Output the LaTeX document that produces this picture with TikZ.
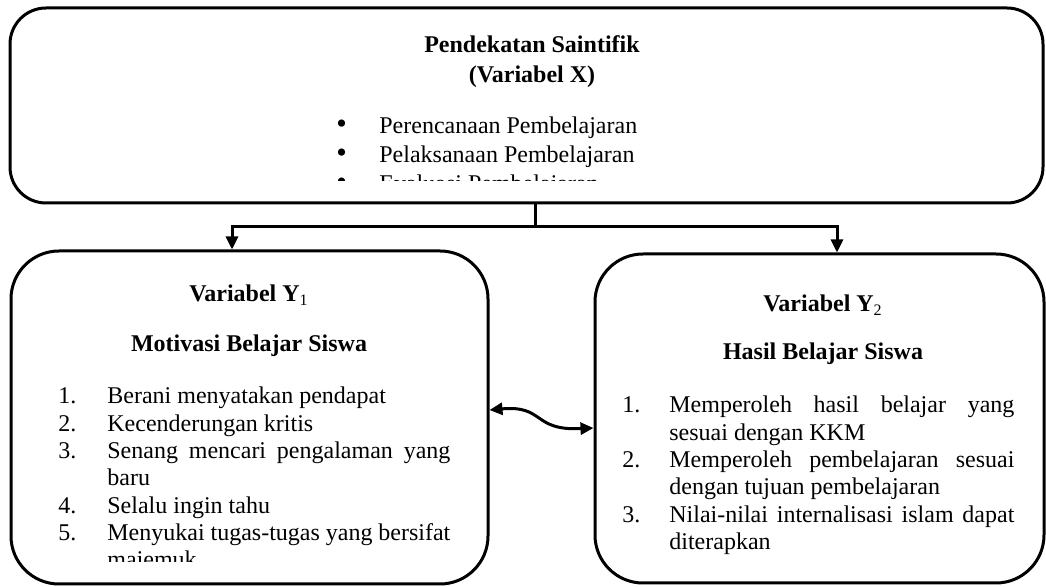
\documentclass[tikz,border=0pt]{standalone}
\usepackage{fontspec}
\setmainfont{Liberation Serif}
\usetikzlibrary{arrows.meta}

\newcommand{\listrow}[3]{\hangindent=#1\hangafter=1\makebox[#1][l]{#2}#3\par}
\hyphenpenalty=10000
\tolerance=10000
\hbadness=10000

\tikzset{
    >={Triangle[length=6.5pt,width=6pt]},
    varbox/.style={draw, line width=1.5pt, rounded corners=24pt},
    head/.style={font=\fontsize{12pt}{14pt}\selectfont\bfseries, anchor=base},
    itemlist/.style={anchor=base west, inner sep=0pt, align=justify, font=\fontsize{12pt}{13.65pt}\selectfont},
    link/.style={line width=1.5pt, ->}
}

\begin{document}
\begin{tikzpicture}[x=0.5pt, y=-0.5pt]
    \useasboundingbox (0,0) rectangle (1046,587);
    % boxes
    \node[varbox, rounded corners=18pt, minimum width=516.5pt, minimum height=97.5pt] (xbox) at (526.5,105.5) {};
    \node[varbox, minimum width=238.5pt, minimum height=166.5pt] (y1box) at (249.5,417.5) {};
    \node[varbox, minimum width=224.5pt, minimum height=164.5pt] (y2box) at (819.5,418.5) {};
    % headings
    \node[head] (xtitle) at (532,53) {Pendekatan Saintifik};
    \node[head] (xsub) at (532,83) {(Variabel X)};
    \node[head] (y1title) at (249,302) {Variabel Y\textsubscript{\normalfont 1}};
    \node[head] (y1sub) at (249,352) {Motivasi Belajar Siswa};
    \node[head] (y2title) at (823,312) {Variabel Y\textsubscript{\normalfont 2}};
    \node[head] (y2sub) at (823,360) {Hasil Belajar Siswa};
    % lists
    \begin{scope}
        \clip (20,20) rectangle (1030,181);
        \node[itemlist, text width=345pt, font=\fontsize{12pt}{14.5pt}\selectfont] (xlist) at (336,134) {%
            \listrow{21.5pt}{{\fontsize{15pt}{15pt}\selectfont\textbullet}}{Perencanaan Pembelajaran}%
            \listrow{21.5pt}{{\fontsize{15pt}{15pt}\selectfont\textbullet}}{Pelaksanaan Pembelajaran}%
            \listrow{21.5pt}{{\fontsize{15pt}{15pt}\selectfont\textbullet}}{Evaluasi Pembelajaran}};
    \end{scope}
    \begin{scope}
        \clip (20,262) rectangle (480,562);
        \node[itemlist, text width=196pt] (y1list) at (58,404) {%
            \listrow{24.5pt}{1.}{Berani menyatakan pendapat}%
            \listrow{24.5pt}{2.}{Kecenderungan kritis}%
            \listrow{24.5pt}{3.}{Senang mencari pengalaman yang\linebreak baru}%
            \listrow{24.5pt}{4.}{Selalu ingin tahu}%
            \listrow{24.5pt}{5.}{Menyukai tugas-tugas yang bersifat\linebreak majemuk}};
    \end{scope}
    \node[itemlist, text width=196pt] (y2list) at (622,413) {%
        \listrow{23.5pt}{1.}{Memperoleh hasil belajar yang\linebreak sesuai dengan KKM}%
        \listrow{23.5pt}{2.}{Memperoleh pembelajaran sesuai\linebreak dengan tujuan pembelajaran}%
        \listrow{23.5pt}{3.}{Nilai-nilai internalisasi islam dapat\linebreak diterapkan}};
    % connectors
    \coordinate (fork) at (535,227);
    \coordinate (y1in) at (232,227);
    \coordinate (y2in) at (837,227);
    \draw[line width=1.5pt] (fork |- xbox.south) -- (fork);
    \draw[link] (fork) -- (y1in) -- (y1in |- y1box.north);
    \draw[link] (fork) -- (y2in) -- (y2in |- y2box.north);
    \draw[link, <->] ([yshift=3.75pt]y1box.east) .. controls (545,405) and (532,431) .. ([yshift=-4.75pt]y2box.west);
\end{tikzpicture}
\end{document}
